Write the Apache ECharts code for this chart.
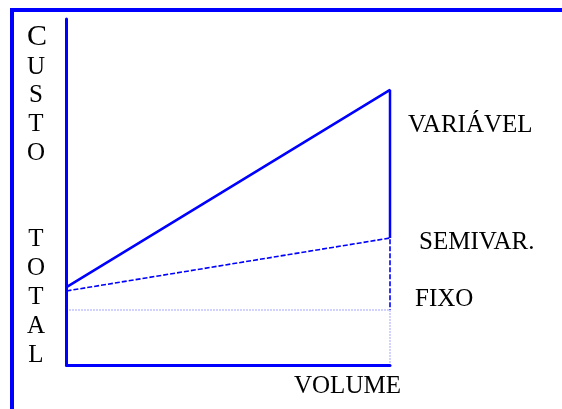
<!DOCTYPE html>
<html>
<head>
<meta charset="utf-8">
<script src="https://cdn.jsdelivr.net/npm/echarts@6/dist/echarts.min.js"></script>
<style>
  html, body { margin: 0; padding: 0; background: #fff; }
  #chart { width: 562px; height: 409px; }
</style>
</head>
<body>
<div id="chart"></div>
<script>
// volume goes from 0 to the end of the range, cost is in arbitrary units (0-100)
var volume = [0, 10];
var variavel = [22.5, 79.5];
var semivar = [21.4, 36.7];
var fixo = [15.9, 15.9];

var labels = ["VARIÁVEL", "SEMIVAR.", "FIXO"];
var xTitle = "VOLUME";
var yTitle = ["C", "U", "S", "T", "O", "", "", "T", "O", "T", "A", "L"];

var blue = "#0000ff";
var serif = "'Liberation Serif', 'DejaVu Serif', serif";

var myChart = echarts.init(document.getElementById("chart"));

var solidData = [
  [volume[0], variavel[0]],
  [volume[1], variavel[1]],
  [volume[1], semivar[1]]
];
var dashedData = [
  [volume[0], semivar[0]],
  [volume[1], semivar[1]],
  [volume[1], fixo[1]]
];
var dottedData = [
  [volume[0], fixo[0]],
  [volume[1], fixo[1]],
  [volume[1], 0]
];

var option = {
  animation: false,
  grid: { left: 66.5, top: 19, right: 172, bottom: 44 },
  xAxis: {
    type: "value",
    min: 0,
    max: 10,
    axisLine: { show: true, lineStyle: { color: blue, width: 3 } },
    axisTick: { show: false },
    axisLabel: { show: false },
    splitLine: { show: false }
  },
  yAxis: {
    type: "value",
    min: 0,
    max: 100,
    axisLine: { show: true, lineStyle: { color: blue, width: 3 } },
    axisTick: { show: false },
    axisLabel: { show: false },
    splitLine: { show: false }
  },
  series: [
    {
      type: "line",
      data: dottedData,
      symbol: "none",
      lineStyle: { color: blue, width: 1, type: [1, 2], opacity: 0.7 }
    },
    {
      type: "line",
      data: dashedData,
      symbol: "none",
      lineStyle: { color: blue, width: 1.6, type: [5, 2] }
    },
    {
      type: "line",
      data: solidData,
      symbol: "none",
      lineStyle: { color: blue, width: 2.5 }
    }
  ],
  graphic: [
    // page frame
    { type: "rect", shape: { x: 10, y: 8, width: 552, height: 4 }, style: { fill: blue } },
    { type: "rect", shape: { x: 10, y: 8, width: 4, height: 401 }, style: { fill: blue } },
    {
      type: "text", x: 37, y: 37,
      style: { text: yTitle[0], font: "30px " + serif, fill: "#000", align: "center", verticalAlign: "middle" }
    },
    {
      type: "text", x: 36, y: 52.6,
      style: {
        text: yTitle.slice(1).join("\n"),
        font: "25px " + serif, lineHeight: 28.8,
        fill: "#000", align: "center", verticalAlign: "top"
      }
    },
    {
      type: "text", x: 408, y: 125,
      style: { text: labels[0], font: "25px " + serif, fill: "#000", align: "left", verticalAlign: "middle" }
    },
    {
      type: "text", x: 419, y: 242,
      style: { text: labels[1], font: "25px " + serif, fill: "#000", align: "left", verticalAlign: "middle" }
    },
    {
      type: "text", x: 415, y: 299,
      style: { text: labels[2], font: "25px " + serif, fill: "#000", align: "left", verticalAlign: "middle" }
    },
    {
      type: "text", x: 294, y: 386,
      style: { text: xTitle, font: "25px " + serif, fill: "#000", align: "left", verticalAlign: "middle" }
    }
  ]
};

option && myChart.setOption(option);
</script>
</body>
</html>
